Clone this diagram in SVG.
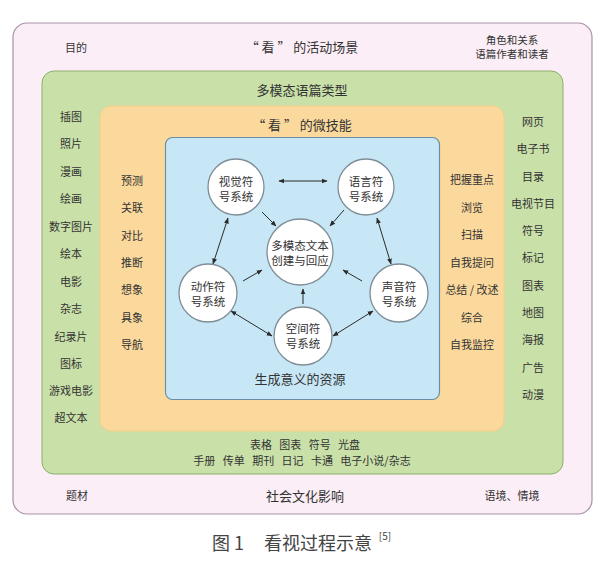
<svg xmlns="http://www.w3.org/2000/svg" width="600" height="563" viewBox="0 0 600 563">
<defs>
<marker id="ah" viewBox="0 0 10 10" refX="9" refY="5" markerWidth="6" markerHeight="6" orient="auto-start-reverse" markerUnits="userSpaceOnUse">
<path d="M0,1 L10,5 L0,9 z" fill="#2b2b2b"/>
</marker>
</defs>
<style>
text{font-family:"Noto Sans CJK SC","Noto Sans",sans-serif;fill:#333;text-anchor:middle;dominant-baseline:central}
.it{font-size:11px}
.sm{font-size:10.5px}
.tt{font-size:13px}
.ct{font-size:11.5px}
.cir{fill:#ffffff;stroke:#7f8d96;stroke-width:1.3}
.ln{stroke:#2b2b2b;stroke-width:1;fill:none}
</style>
<rect width="600" height="563" fill="#ffffff"/>
<g id="scene">
<rect x="13" y="23" width="579" height="491" rx="14" fill="#fbeef6" stroke="#a791aa" stroke-width="1.2"/>
<text class="it" x="76" y="47">目的</text>
<text class="tt" x="302" y="46">“ 看 ” 的活动场景</text>
<text class="sm" x="512" y="39">角色和关系</text>
<text class="sm" x="512" y="53">语篇作者和读者</text>
<text class="it" x="77" y="495">题材</text>
<text class="tt" x="305" y="495">社会文化影响</text>
<text class="it" x="512" y="495">语境、情境</text>
</g>
<g id="genres">
<rect x="42" y="71" width="521" height="403" rx="12" fill="#c9e0a9" stroke="#8db06c" stroke-width="1"/>
<text class="tt" x="302" y="89">多模态语篇类型</text>
<text class="it" x="71" y="116">插图</text>
<text class="it" x="71" y="143">照片</text>
<text class="it" x="71" y="171">漫画</text>
<text class="it" x="71" y="198">绘画</text>
<text class="it" x="71" y="226">数字图片</text>
<text class="it" x="71" y="253">绘本</text>
<text class="it" x="71" y="281">电影</text>
<text class="it" x="71" y="308">杂志</text>
<text class="it" x="71" y="336">纪录片</text>
<text class="it" x="71" y="363">图标</text>
<text class="it" x="71" y="390">游戏电影</text>
<text class="it" x="71" y="417">超文本</text>
<text class="it" x="533" y="121">网页</text>
<text class="it" x="533" y="148">电子书</text>
<text class="it" x="533" y="176">目录</text>
<text class="it" x="533" y="203">电视节目</text>
<text class="it" x="533" y="230">符号</text>
<text class="it" x="533" y="257">标记</text>
<text class="it" x="533" y="285">图表</text>
<text class="it" x="533" y="312">地图</text>
<text class="it" x="533" y="339">海报</text>
<text class="it" x="533" y="367">广告</text>
<text class="it" x="533" y="394">动漫</text>
<text class="it" x="305" y="444" xml:space="preserve">表格   图表   符号   光盘</text>
<text class="it" x="302" y="460" xml:space="preserve">手册   传单   期刊   日记   卡通   电子小说/杂志</text>
</g>
<g id="microskills">
<rect x="100" y="106" width="404" height="325" rx="11" fill="#fbd99d" stroke="#f3cf8a" stroke-width="1"/>
<text class="tt" x="302" y="124">“ 看 ” 的微技能</text>
<text class="it" x="132" y="180">预测</text>
<text class="it" x="132" y="207">关联</text>
<text class="it" x="132" y="235">对比</text>
<text class="it" x="132" y="262">推断</text>
<text class="it" x="132" y="289">想象</text>
<text class="it" x="132" y="317">具象</text>
<text class="it" x="132" y="344">导航</text>
<text class="it" x="472" y="179">把握重点</text>
<text class="it" x="472" y="207">浏览</text>
<text class="it" x="472" y="234">扫描</text>
<text class="it" x="472" y="262">自我提问</text>
<text class="it" x="472" y="289">总结 / 改述</text>
<text class="it" x="472" y="317">综合</text>
<text class="it" x="472" y="344">自我监控</text>
</g>
<g id="resources">
<rect x="165.5" y="137.5" width="274" height="262" rx="7" fill="#c7e7f6" stroke="#6a8ea3" stroke-width="1.2"/>
<text class="tt" x="300" y="378">生成意义的资源</text>
</g>
<g id="connectors">
<line class="ln" x1="279" y1="181" x2="327" y2="181" marker-start="url(#ah)" marker-end="url(#ah)"/>
<line class="ln" x1="262" y1="212" x2="276" y2="226" marker-end="url(#ah)"/>
<line class="ln" x1="344" y1="210" x2="330" y2="226" marker-end="url(#ah)"/>
<line class="ln" x1="228" y1="218" x2="213" y2="264" marker-start="url(#ah)" marker-end="url(#ah)"/>
<line class="ln" x1="377" y1="218" x2="391" y2="264" marker-start="url(#ah)" marker-end="url(#ah)"/>
<line class="ln" x1="243" y1="281" x2="262" y2="270" marker-end="url(#ah)"/>
<line class="ln" x1="362" y1="281" x2="343" y2="270" marker-end="url(#ah)"/>
<line class="ln" x1="303" y1="304" x2="303" y2="289" marker-end="url(#ah)"/>
<line class="ln" x1="231" y1="311" x2="272" y2="336" marker-start="url(#ah)" marker-end="url(#ah)"/>
<line class="ln" x1="373" y1="311" x2="333" y2="336" marker-start="url(#ah)" marker-end="url(#ah)"/>
</g>
<g id="visual">
<circle class="cir" cx="236" cy="187" r="28"/>
<text class="ct" x="236" y="181">视觉符</text>
<text class="ct" x="236" y="196">号系统</text>
</g>
<g id="language">
<circle class="cir" cx="366" cy="187" r="28"/>
<text class="ct" x="366" y="181">语言符</text>
<text class="ct" x="366" y="196">号系统</text>
</g>
<g id="multimodal">
<circle class="cir" cx="300" cy="252" r="33"/>
<text class="ct" x="300" y="245">多模态文本</text>
<text class="ct" x="300" y="260">创建与回应</text>
</g>
<g id="action">
<circle class="cir" cx="208" cy="293" r="29"/>
<text class="ct" x="208" y="286">动作符</text>
<text class="ct" x="208" y="301">号系统</text>
</g>
<g id="sound">
<circle class="cir" cx="399" cy="293" r="29"/>
<text class="ct" x="399" y="286">声音符</text>
<text class="ct" x="399" y="301">号系统</text>
</g>
<g id="space">
<circle class="cir" cx="303" cy="336" r="29"/>
<text class="ct" x="303" y="328">空间符</text>
<text class="ct" x="303" y="343">号系统</text>
</g>
<g id="caption">
<text x="228" y="542" style="font-size:18px;fill:#444">图 1</text>
<text x="318" y="542" style="font-size:18px;fill:#444">看视过程示意</text>
<text x="385" y="535" style="font-size:10px;fill:#444">[5]</text>
</g>
</svg>
